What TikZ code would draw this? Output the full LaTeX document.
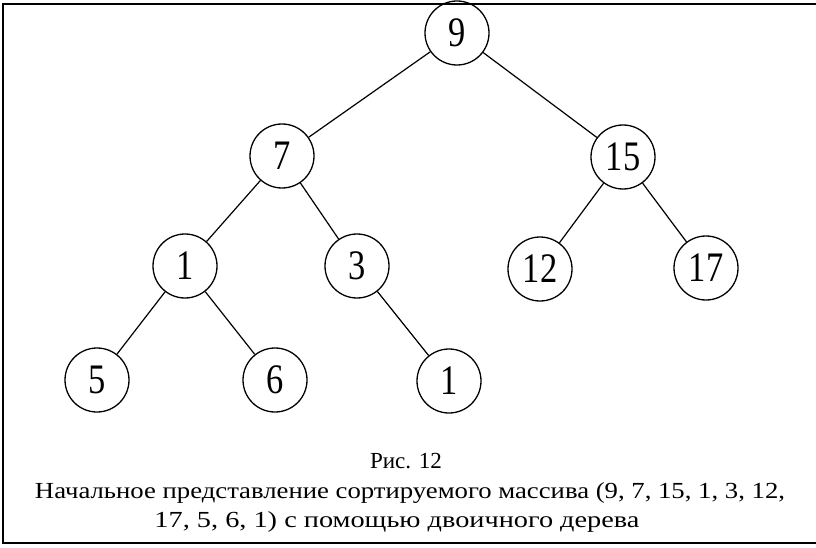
\documentclass[tikz,border=0pt]{standalone}
\usepackage{fontspec}
\setmainfont{Liberation Serif}
\begin{document}
\begin{tikzpicture}[x=1pt,y=-1pt,
  vert/.style={draw,circle,line width=1.3pt,minimum size=64pt,inner sep=0pt,font=\fontsize{42}{42}\selectfont},
  edge/.style={line width=1.2pt},
  frame/.style={line width=2.5pt},
  captxt/.style={inner sep=0pt,anchor=base,font=\fontsize{23}{26}\selectfont}]
\useasboundingbox (0,0) rectangle (816,548);
\coordinate (tr) at (816,4);
\coordinate (tl) at (3,4);
\coordinate (bl) at (3,543);
\coordinate (br) at (816,543);
\draw[frame] (tr) -- (tl) -- (bl) -- (br);

\newcommand{\dg}[1]{\scalebox{0.82}[1]{#1}}
\node[vert] (n9)  at (457,33)  {\dg{9}};
\node[vert] (n7)  at (282,156) {\dg{7}};
\node[vert] (n15) at (623,157) {\dg{15}};
\node[vert] (n1)  at (185,266) {\dg{1}};
\node[vert] (n3)  at (357,266) {\dg{3}};
\node[vert] (n12) at (540,269) {\dg{12}};
\node[vert] (n17) at (706,268) {\dg{17}};
\node[vert] (n5)  at (97,380)  {\dg{5}};
\node[vert] (n6)  at (275,380) {\dg{6}};
\node[vert] (n1b) at (449,381) {\dg{1}};

\draw[edge] (n9) -- (n7);
\draw[edge] (n9) -- (n15);
\draw[edge] (n7) -- (n1);
\draw[edge] (n7) -- (n3);
\draw[edge] (n15) -- (n12);
\draw[edge] (n15) -- (n17);
\draw[edge] (n1) -- (n5);
\draw[edge] (n1) -- (n6);
\draw[edge] (n3) -- (n1b);

\node[captxt] (cap1) at (406,468) {\resizebox{72pt}{\height}{Рис. 12}};
\node[captxt] (cap2) at (410,498) {\resizebox{750pt}{\height}{Начальное представление сортируемого массива (9, 7, 15, 1, 3, 12,}};
\node[captxt] (cap3) at (397,527) {\resizebox{485pt}{\height}{17, 5, 6, 1) с помощью двоичного дерева}};
\end{tikzpicture}
\end{document}
